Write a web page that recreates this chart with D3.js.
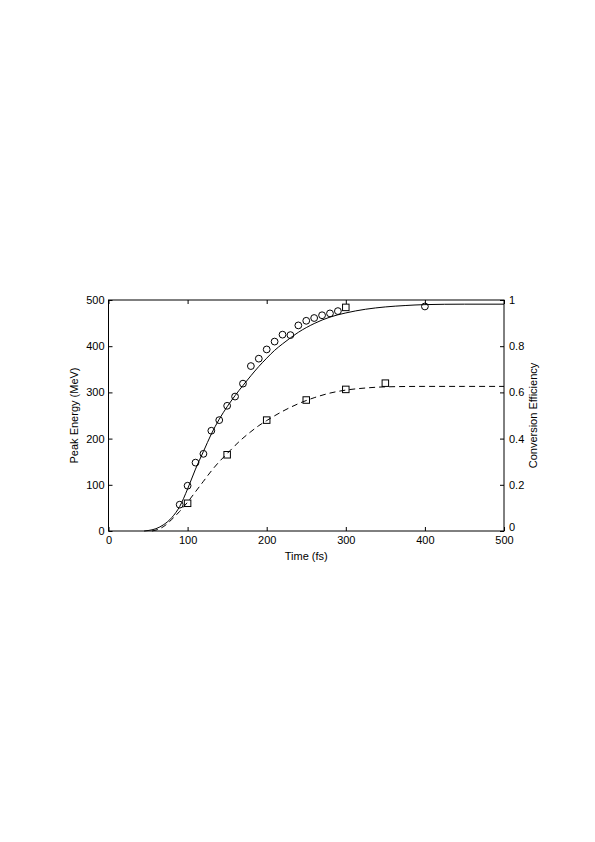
<!DOCTYPE html>
<html><head><meta charset="utf-8">
<script src="https://cdn.jsdelivr.net/npm/d3@7"></script>
<style>
html,body{margin:0;padding:0;background:#fff;}
svg{display:block;}
text{font-family:"Liberation Sans",Arial,Helvetica,sans-serif;}
</style></head>
<body>
<script>
// ---- data ----
const xTicks = [0, 100, 200, 300, 400, 500];
const leftTicks = [0, 100, 200, 300, 400, 500];
const rightTicks = [0, 0.2, 0.4, 0.6, 0.8, 1];

// Peak energy measurements (circles, left axis)
const energyTime = [90,100,110,120,130,140,150,160,170,180,190,200,210,220,230,240,250,260,270,280,290,400];
const energyVal  = [57,98,148,167,217,240,271,291,319,357,373,393,410,425,424,445,455,461,467,471,476,486];

// Peak energy fit (solid line, left axis)
const fitTime   = [45,50,60,70,80,90,100,110,120,130,140,150,160,170,180,190,200,210,220,230,240,260,280,300,325,350,375,400,450,500];
const fitEnergy = [0,1,5,14,29,53,91,134,172,210,242,269,293,315,336,356,374,391,405,418,430,449,463,472,480,485,488,490,491,491];

// Conversion efficiency measurements (squares, right axis)
const convTime = [100,150,200,250,300,350,300];
const convVal  = [0.12,0.33,0.48,0.567,0.613,0.64,0.968];

// Conversion efficiency fit (dashed line, right axis)
const cfitTime = [55,60,70,80,90,100,110,120,130,140,150,160,170,180,190,200,220,240,260,280,300,325,350,400,450,500];
const cfitVal  = [0,0.004,0.02,0.05,0.085,0.125,0.17,0.215,0.26,0.3,0.335,0.37,0.402,0.43,0.456,0.478,0.518,0.551,0.577,0.597,0.61,0.619,0.624,0.626,0.626,0.626];

// ---- drawing ----
const W = 595, H = 842;
const L = 108.5, R = 504, T = 300, B = 531;
const svg = d3.select("body").append("svg").attr("width", W).attr("height", H);

const x = d3.scaleLinear().domain([0, 500]).range([L, R]);
const yL = d3.scaleLinear().domain([0, 500]).range([B, T]);
const yR = d3.scaleLinear().domain([0, 1]).range([B, T]);

const fs = 11;
function styleAxis(g){
  g.select(".domain").remove();
  g.selectAll(".tick line").attr("stroke","#000").attr("stroke-width",1);
  g.selectAll(".tick text").attr("fill","#000").style("font-size", fs+"px")
    .style("font-family",'"Liberation Sans",Arial,sans-serif');
}

svg.append("g").attr("transform",`translate(0,${B})`)
  .call(d3.axisBottom(x).tickValues(xTicks).tickSizeInner(-4).tickSizeOuter(0).tickPadding(5).tickFormat(d3.format("d")))
  .call(styleAxis);
svg.append("g").attr("transform",`translate(0,${T})`)
  .call(d3.axisTop(x).tickValues(xTicks).tickSizeInner(-4).tickSizeOuter(0).tickFormat(""))
  .call(styleAxis);
svg.append("g").attr("transform",`translate(${L},0)`)
  .call(d3.axisLeft(yL).tickValues(leftTicks).tickSizeInner(-4).tickSizeOuter(0).tickPadding(4).tickFormat(d3.format("d")))
  .call(styleAxis);
const rAx = svg.append("g").attr("transform",`translate(${R},0)`)
  .call(d3.axisRight(yR).tickValues(rightTicks).tickSizeInner(-4).tickSizeOuter(0).tickPadding(5).tickFormat(d => d===0||d===1 ? d3.format("d")(d) : d3.format(".1f")(d)))
  .call(styleAxis);
// nudge the right-hand "0" up so it clears the bottom "500"
rAx.selectAll(".tick").filter(d => d === 0).select("text").attr("dy","-0.05em");

svg.append("rect").attr("x",L).attr("y",T).attr("width",R-L).attr("height",B-T)
  .attr("fill","none").attr("stroke","#000").attr("stroke-width",1);

// curves
const solid = d3.line().x(d=>x(d[0])).y(d=>yL(d[1])).curve(d3.curveMonotoneX);
svg.append("path").datum(fitTime.map((t,i)=>[t,fitEnergy[i]]))
  .attr("d",solid).attr("fill","none").attr("stroke","#000").attr("stroke-width",1);

const dashed = d3.line().x(d=>x(d[0])).y(d=>yR(d[1])).curve(d3.curveMonotoneX);
svg.append("path").datum(cfitTime.map((t,i)=>[t,cfitVal[i]]))
  .attr("d",dashed).attr("fill","none").attr("stroke","#000").attr("stroke-width",1)
  .attr("stroke-dasharray","6,4");

// markers
svg.append("g").selectAll("circle").data(energyTime.map((t,i)=>[t,energyVal[i]]))
  .join("circle").attr("cx",d=>x(d[0])).attr("cy",d=>yL(d[1])).attr("r",3.4)
  .attr("fill","none").attr("stroke","#000").attr("stroke-width",1);

const s = 6.5;
svg.append("g").selectAll("rect").data(convTime.map((t,i)=>[t,convVal[i]]))
  .join("rect").attr("x",d=>x(d[0])-s/2).attr("y",d=>yR(d[1])-s/2).attr("width",s).attr("height",s)
  .attr("fill","none").attr("stroke","#000").attr("stroke-width",1);

// labels
svg.append("text").attr("x",(L+R)/2).attr("y",560).attr("text-anchor","middle")
  .style("font-size",fs+"px").text("Time (fs)");
svg.append("text").attr("transform",`translate(78,${(T+B)/2}) rotate(-90)`).attr("text-anchor","middle")
  .style("font-size",fs+"px").text("Peak Energy (MeV)");
svg.append("text").attr("transform",`translate(537,${(T+B)/2}) rotate(-90)`).attr("text-anchor","middle")
  .style("font-size",fs+"px").text("Conversion Efficiency");
</script>
</body></html>
